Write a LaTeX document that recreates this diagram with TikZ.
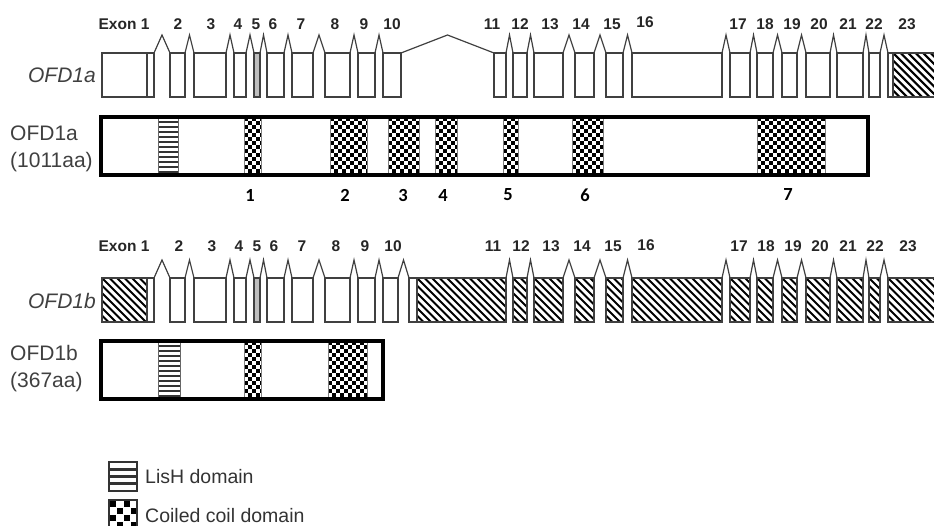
\documentclass[tikz,border=0pt]{standalone}
\usepackage{fontspec}
\setmainfont{Liberation Sans}
\newfontfamily\calfont{Carlito}
\usepackage{tikz}
\usetikzlibrary{calc}

\tikzset{hatchfill/.style={path picture={\foreach \k in {-8,...,15} {\draw[line width=2.1pt,black] ($(path picture bounding box.north west)+(\k*7.5-5,-5)$) -- ++(67,67);}}}}
\tikzset{lishfill/.style={path picture={\foreach \k in {1,...,11} {\draw[line width=1.4pt,black!80] ($(path picture bounding box.north west)+(-2,\k*5)$) -- ++(30,0);}}}}
\tikzset{coilfill/.style={path picture={\foreach \i in {0,...,9} {\foreach \j in {0,...,7} {
    \fill[black] ($(path picture bounding box.north west)+(\i*8+0.3,\j*8+0.3)$) rectangle ++(3.4,3.4);
    \fill[black] ($(path picture bounding box.north west)+(\i*8+4.3,\j*8+4.3)$) rectangle ++(3.4,3.4);}}}}}

\tikzset{exon/.style={rectangle,draw=black!75,line width=1.2pt,inner sep=0pt,outer sep=0pt,minimum height=44pt,anchor=north west}}
\tikzset{utr/.style={exon,hatchfill}}
\tikzset{intron/.style={draw=black!75,line width=1.2pt,to path={-- ($(\tikztostart)!.5!(\tikztotarget)+(0,-18)$) -- (\tikztotarget)}}}
\tikzset{prot/.style={rectangle,draw=black,line width=3.5pt,inner sep=0pt,outer sep=0pt,minimum height=58pt,anchor=north west}}
\tikzset{lish/.style={rectangle,draw=black!60,line width=0.8pt,inner sep=0pt,outer sep=0pt,minimum height=58pt,anchor=north west,lishfill}}
\tikzset{coil/.style={rectangle,draw=black!50,line width=0.8pt,inner sep=0pt,outer sep=0pt,minimum height=58pt,anchor=north west,coilfill}}
\tikzset{exlbl/.style={font=\fontsize{15.5}{18}\selectfont\bfseries,text=black!85,inner sep=0pt}}
\tikzset{pname/.style={font=\fontsize{21}{27}\selectfont,text=black!75,inner sep=0pt,align=left,anchor=west}}
\tikzset{gene/.style={font=\fontsize{21}{27}\selectfont\itshape,text=black!75,inner sep=0pt,anchor=east}}
\tikzset{dnum/.style={font=\fontsize{18.5}{20}\selectfont\calfont\bfseries,inner sep=0pt}}
\tikzset{keytxt/.style={font=\fontsize{19.5}{22}\selectfont,text=black!80,inner sep=0pt,anchor=west}}

\begin{document}
\begin{tikzpicture}[x=1pt,y=-1pt]
    \useasboundingbox (0,0) rectangle (934,526);

    % OFD1a gene
    \node[gene] (ga) at (96,75) {OFD1a};
    \node[exon,minimum width=45] (a1) at (102,53) {};
    \node[exon,minimum width=7] (a1x) at (147,53) {};
    \node[exon,minimum width=15] (a2) at (170,53) {};
    \node[exon,minimum width=32] (a3) at (194,53) {};
    \node[exon,minimum width=12] (a4) at (234,53) {};
    \node[exon,minimum width=6,fill=black!25] (a5) at (254,53) {};
    \node[exon,minimum width=17] (a6) at (267,53) {};
    \node[exon,minimum width=21] (a7) at (292,53) {};
    \node[exon,minimum width=25] (a8) at (325,53) {};
    \node[exon,minimum width=17] (a9) at (358,53) {};
    \node[exon,minimum width=18] (a10) at (383,53) {};
    \node[exon,minimum width=12] (a11) at (494,53) {};
    \node[exon,minimum width=14] (a12) at (513,53) {};
    \node[exon,minimum width=29] (a13) at (534,53) {};
    \node[exon,minimum width=19] (a14) at (575,53) {};
    \node[exon,minimum width=17] (a15) at (606,53) {};
    \node[exon,minimum width=90] (a16) at (632,53) {};
    \node[exon,minimum width=20] (a17) at (730,53) {};
    \node[exon,minimum width=16] (a18) at (757,53) {};
    \node[exon,minimum width=15] (a19) at (782,53) {};
    \node[exon,minimum width=24] (a20) at (806,53) {};
    \node[exon,minimum width=26] (a21) at (837,53) {};
    \node[exon,minimum width=11] (a22) at (869,53) {};
    \node[exon,minimum width=5] (a23) at (888,53) {};
    \node[utr,minimum width=52] (a23u) at (893,53) {};

    \draw [intron] (a1x.north east) to (a2.north west);
    \draw [intron] (a2.north east) to (a3.north west);
    \draw [intron] (a3.north east) to (a4.north west);
    \draw [intron] (a4.north east) to (a5.north west);
    \draw [intron] (a5.north east) to (a6.north west);
    \draw [intron] (a6.north east) to (a7.north west);
    \draw [intron] (a7.north east) to (a8.north west);
    \draw [intron] (a8.north east) to (a9.north west);
    \draw [intron] (a9.north east) to (a10.north west);
    \draw [intron] (a10.north east) to (a11.north west);
    \draw [intron] (a11.north east) to (a12.north west);
    \draw [intron] (a12.north east) to (a13.north west);
    \draw [intron] (a13.north east) to (a14.north west);
    \draw [intron] (a14.north east) to (a15.north west);
    \draw [intron] (a15.north east) to (a16.north west);
    \draw [intron] (a16.north east) to (a17.north west);
    \draw [intron] (a17.north east) to (a18.north west);
    \draw [intron] (a18.north east) to (a19.north west);
    \draw [intron] (a19.north east) to (a20.north west);
    \draw [intron] (a20.north east) to (a21.north west);
    \draw [intron] (a21.north east) to (a22.north west);
    \draw [intron] (a22.north east) to (a23.north west);

    \node[exlbl] (la1) at (124,24) {Exon 1};
    \node[exlbl] (la2) at (178,24) {2};
    \node[exlbl] (la3) at (211,24) {3};
    \node[exlbl] (la4) at (238,24) {4};
    \node[exlbl] (la5) at (256,24) {5};
    \node[exlbl] (la6) at (273,24) {6};
    \node[exlbl] (la7) at (301,24) {7};
    \node[exlbl] (la8) at (335,24) {8};
    \node[exlbl] (la9) at (364,24) {9};
    \node[exlbl] (la10) at (392,24) {10};
    \node[exlbl] (la11) at (492,24) {11};
    \node[exlbl] (la12) at (520,24) {12};
    \node[exlbl] (la13) at (550,24) {13};
    \node[exlbl] (la14) at (581,24) {14};
    \node[exlbl] (la15) at (612,24) {15};
    \node[exlbl] (la16) at (645,22) {16};
    \node[exlbl] (la17) at (738,24) {17};
    \node[exlbl] (la18) at (765,24) {18};
    \node[exlbl] (la19) at (792,24) {19};
    \node[exlbl] (la20) at (819,24) {20};
    \node[exlbl] (la21) at (848,24) {21};
    \node[exlbl] (la22) at (874,24) {22};
    \node[exlbl] (la23) at (907,24) {23};

    % OFD1a protein
    \node[pname] (pla) at (10,149) {OFD1a\\(1011aa)};
    \node[lish,minimum width=20] (da0) at (158,117) {};
    \node[coil,minimum width=17] (da1) at (244,117) {};
    \node[coil,minimum width=37] (da2) at (330,117) {};
    \node[coil,minimum width=31] (da3) at (388,117) {};
    \node[coil,minimum width=22] (da4) at (435,117) {};
    \node[coil,minimum width=15] (da5) at (503,117) {};
    \node[coil,minimum width=31] (da6) at (572,117) {};
    \node[coil,minimum width=68] (da7) at (757,117) {};
    \node[prot,minimum width=767] (pa) at (101,117) {};

    \node[dnum] (n1) at (250,195) {1};
    \node[dnum] (n2) at (345,195) {2};
    \node[dnum] (n3) at (403,195) {3};
    \node[dnum] (n4) at (443,195) {4};
    \node[dnum] (n5) at (508,195) {5};
    \node[dnum] (n6) at (585,195) {6};
    \node[dnum] (n7) at (788,195) {7};

    % OFD1b gene
    \node[gene] (gb) at (96,301) {OFD1b};
    \node[utr,minimum width=45] (b1) at (102,278) {};
    \node[exon,minimum width=7] (b1x) at (147,278) {};
    \node[exon,minimum width=15] (b2) at (170,278) {};
    \node[exon,minimum width=32] (b3) at (194,278) {};
    \node[exon,minimum width=12] (b4) at (234,278) {};
    \node[exon,minimum width=6,fill=black!25] (b5) at (254,278) {};
    \node[exon,minimum width=17] (b6) at (267,278) {};
    \node[exon,minimum width=21] (b7) at (292,278) {};
    \node[exon,minimum width=25] (b8) at (325,278) {};
    \node[exon,minimum width=17] (b9) at (358,278) {};
    \node[exon,minimum width=15] (b10) at (383,278) {};
    \node[exon,minimum width=8] (b10x) at (409,278) {};
    \node[utr,minimum width=89] (b11) at (417,278) {};
    \node[utr,minimum width=14] (b12) at (513,278) {};
    \node[utr,minimum width=29] (b13) at (534,278) {};
    \node[utr,minimum width=19] (b14) at (575,278) {};
    \node[utr,minimum width=17] (b15) at (606,278) {};
    \node[utr,minimum width=90] (b16) at (632,278) {};
    \node[utr,minimum width=20] (b17) at (730,278) {};
    \node[utr,minimum width=16] (b18) at (757,278) {};
    \node[utr,minimum width=15] (b19) at (782,278) {};
    \node[utr,minimum width=24] (b20) at (806,278) {};
    \node[utr,minimum width=26] (b21) at (837,278) {};
    \node[utr,minimum width=11] (b22) at (869,278) {};
    \node[utr,minimum width=57] (b23) at (888,278) {};

    \draw [intron] (b1x.north east) to (b2.north west);
    \draw [intron] (b2.north east) to (b3.north west);
    \draw [intron] (b3.north east) to (b4.north west);
    \draw [intron] (b4.north east) to (b5.north west);
    \draw [intron] (b5.north east) to (b6.north west);
    \draw [intron] (b6.north east) to (b7.north west);
    \draw [intron] (b7.north east) to (b8.north west);
    \draw [intron] (b8.north east) to (b9.north west);
    \draw [intron] (b9.north east) to (b10.north west);
    \draw [intron] (b10.north east) to (b10x.north west);
    \draw [intron] (b11.north east) to (b12.north west);
    \draw [intron] (b12.north east) to (b13.north west);
    \draw [intron] (b13.north east) to (b14.north west);
    \draw [intron] (b14.north east) to (b15.north west);
    \draw [intron] (b15.north east) to (b16.north west);
    \draw [intron] (b16.north east) to (b17.north west);
    \draw [intron] (b17.north east) to (b18.north west);
    \draw [intron] (b18.north east) to (b19.north west);
    \draw [intron] (b19.north east) to (b20.north west);
    \draw [intron] (b20.north east) to (b21.north west);
    \draw [intron] (b21.north east) to (b22.north west);
    \draw [intron] (b22.north east) to (b23.north west);

    \node[exlbl] (lb1) at (124,246) {Exon 1};
    \node[exlbl] (lb2) at (179,246) {2};
    \node[exlbl] (lb3) at (212,246) {3};
    \node[exlbl] (lb4) at (239,246) {4};
    \node[exlbl] (lb5) at (257,246) {5};
    \node[exlbl] (lb6) at (274,246) {6};
    \node[exlbl] (lb7) at (302,246) {7};
    \node[exlbl] (lb8) at (336,246) {8};
    \node[exlbl] (lb9) at (365,246) {9};
    \node[exlbl] (lb10) at (393,246) {10};
    \node[exlbl] (lb11) at (493,246) {11};
    \node[exlbl] (lb12) at (521,246) {12};
    \node[exlbl] (lb13) at (551,246) {13};
    \node[exlbl] (lb14) at (582,246) {14};
    \node[exlbl] (lb15) at (613,246) {15};
    \node[exlbl] (lb16) at (646,245) {16};
    \node[exlbl] (lb17) at (739,246) {17};
    \node[exlbl] (lb18) at (766,246) {18};
    \node[exlbl] (lb19) at (793,246) {19};
    \node[exlbl] (lb20) at (820,246) {20};
    \node[exlbl] (lb21) at (848,246) {21};
    \node[exlbl] (lb22) at (875,246) {22};
    \node[exlbl] (lb23) at (908,246) {23};

    % OFD1b protein
    \node[pname] (plb) at (10,369) {OFD1b\\(367aa)};
    \node[lish,minimum width=22] (db0) at (158,341) {};
    \node[coil,minimum width=17] (db1) at (244,341) {};
    \node[coil,minimum width=39] (db2) at (328,341) {};
    \node[prot,minimum width=282] (pb) at (101,341) {};

    % key
    \node[rectangle,draw=black!80,line width=2pt,inner sep=0pt,outer sep=0pt,minimum width=28,minimum height=29,anchor=north west,
      path picture={\foreach \k in {1,2,3} {\draw[line width=3.2pt,black!80] ($(path picture bounding box.north west)+(-2,\k*7.25)$) -- ++(32,0);}}] (kl) at (109,462) {};
    \node[keytxt] (klt) at (145,477) {LisH domain};
    \node[rectangle,draw=black!80,line width=1.5pt,inner sep=0pt,outer sep=0pt,minimum width=28,minimum height=28,anchor=north west,
      path picture={\foreach \i in {0,1} {\foreach \j in {0,1} {
        \fill[black] ($(path picture bounding box.north west)+(\i*14+1,\j*14+1)$) rectangle ++(6,6);
        \fill[black] ($(path picture bounding box.north west)+(\i*14+8,\j*14+8)$) rectangle ++(6,6);}}}] (kc) at (109,500) {};
    \node[keytxt] (kct) at (145,516) {Coiled coil domain};
\end{tikzpicture}
\end{document}
